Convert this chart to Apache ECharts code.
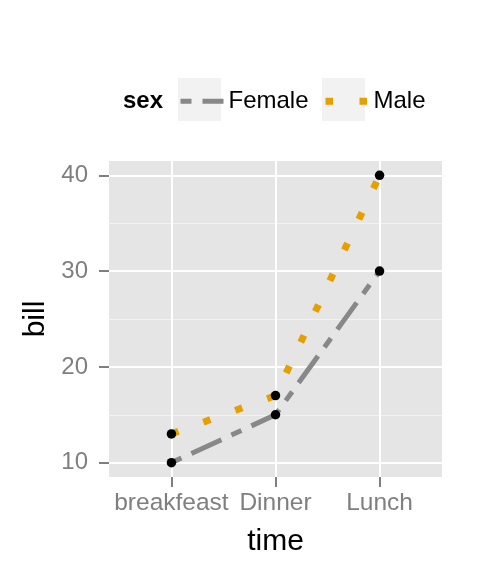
<!DOCTYPE html>
<html>
<head>
<meta charset="utf-8">
<script src="https://cdn.jsdelivr.net/npm/echarts@6/dist/echarts.min.js"></script>
<style>
  html, body { margin: 0; padding: 0; background: #fff; }
  #main { width: 480px; height: 576px; }
</style>
</head>
<body>
<div id="main"></div>
<script>
// data
const categories = ['breakfeast', 'Dinner', 'Lunch'];
const femaleBill = [10, 15, 30];
const maleBill = [13, 17, 40];
const yTicks = [10, 20, 30, 40];
const yMinor = [15, 25, 35];

const FONT = "'Liberation Sans', Arial, sans-serif";
const chart = echarts.init(document.getElementById('main'), null, { renderer: 'canvas' });

const toPoints = arr => arr.map((v, i) => [i, v]);

const femaleLine = { color: '#888888', width: 5, type: [11, 11, 33, 11], cap: 'butt' };
const maleLine = { color: '#E69F00', width: 7, type: [7.5, 26.5], cap: 'butt' };

// legend key: line only, hide the symbol ECharts adds
function legendFor(name, left, ls) {
  return {
    data: [name], left: left, top: 84, padding: 0,
    itemWidth: 43, itemHeight: 43, itemGap: 0,
    itemStyle: { opacity: 0 },
    lineStyle: ls,
    textStyle: { fontSize: 24, color: '#000', fontFamily: FONT }
  };
}

const option = {
  backgroundColor: '#ffffff',
  animation: false,
  textStyle: { fontFamily: FONT },
  grid: {
    left: 109, right: 38, top: 161, bottom: 99,
    show: true, backgroundColor: '#E5E5E5', borderWidth: 0
  },
  legend: [
    legendFor('Female', 178, femaleLine),
    legendFor('Male', 322, maleLine)
  ],
  graphic: [
    // legend title and key backgrounds
    { type: 'text', left: 123, top: 89, z: 10,
      style: { text: 'sex', fontSize: 24, fontWeight: 'bold', fill: '#000', fontFamily: FONT } },
    { type: 'rect', shape: { x: 178, y: 78, width: 43, height: 43 }, z: -1,
      style: { fill: '#F2F2F2' } },
    { type: 'rect', shape: { x: 322, y: 78, width: 43, height: 43 }, z: -1,
      style: { fill: '#F2F2F2' } }
  ],
  xAxis: {
    type: 'value', min: -0.6, max: 2.6,
    name: 'time', nameLocation: 'middle', nameGap: 50,
    nameTextStyle: { fontSize: 30, color: '#000', fontFamily: FONT },
    axisLine: { show: false, onZero: false },
    axisTick: { show: true, length: 10, customValues: [0, 1, 2],
      lineStyle: { color: '#7F7F7F', width: 2 } },
    axisLabel: { customValues: [0, 1, 2], margin: 14, fontSize: 24.5, color: '#7F7F7F',
      formatter: v => categories[Math.round(v)] },
    splitLine: { show: true, lineStyle: { color: '#ffffff', width: 2 } }
  },
  yAxis: [
    {
      type: 'value', min: 8.5, max: 41.5,
      name: 'bill', nameLocation: 'middle', nameGap: 51, nameRotate: 90,
      nameTextStyle: { fontSize: 30, color: '#000', fontFamily: FONT },
      axisLine: { show: false, onZero: false },
      axisTick: { show: true, length: 10, customValues: yTicks,
        lineStyle: { color: '#7F7F7F', width: 2 } },
      axisLabel: { customValues: yTicks, margin: 21, fontSize: 24, color: '#7F7F7F' },
      splitLine: { show: true, lineStyle: { color: '#ffffff', width: 2 } }
    },
    {
      type: 'value', min: 8.5, max: 41.5, position: 'left',
      axisLine: { show: false, onZero: false },
      axisTick: { show: false, customValues: yMinor },
      axisLabel: { show: false },
      splitLine: { show: true, lineStyle: { color: '#F2F2F2', width: 1 } }
    }
  ],
  series: [
    {
      name: 'Female', type: 'line', data: toPoints(femaleBill),
      symbol: 'none', color: '#888888', z: 2,
      lineStyle: femaleLine
    },
    {
      name: 'Male', type: 'line', data: toPoints(maleBill),
      symbol: 'none', color: '#E69F00', z: 2,
      lineStyle: maleLine
    },
    {
      name: 'points', type: 'scatter', z: 3,
      data: toPoints(femaleBill).concat(toPoints(maleBill)),
      symbol: 'circle', symbolSize: 9.5,
      itemStyle: { color: '#000000', opacity: 1 }
    }
  ]
};

chart.setOption(option);
</script>
</body>
</html>
